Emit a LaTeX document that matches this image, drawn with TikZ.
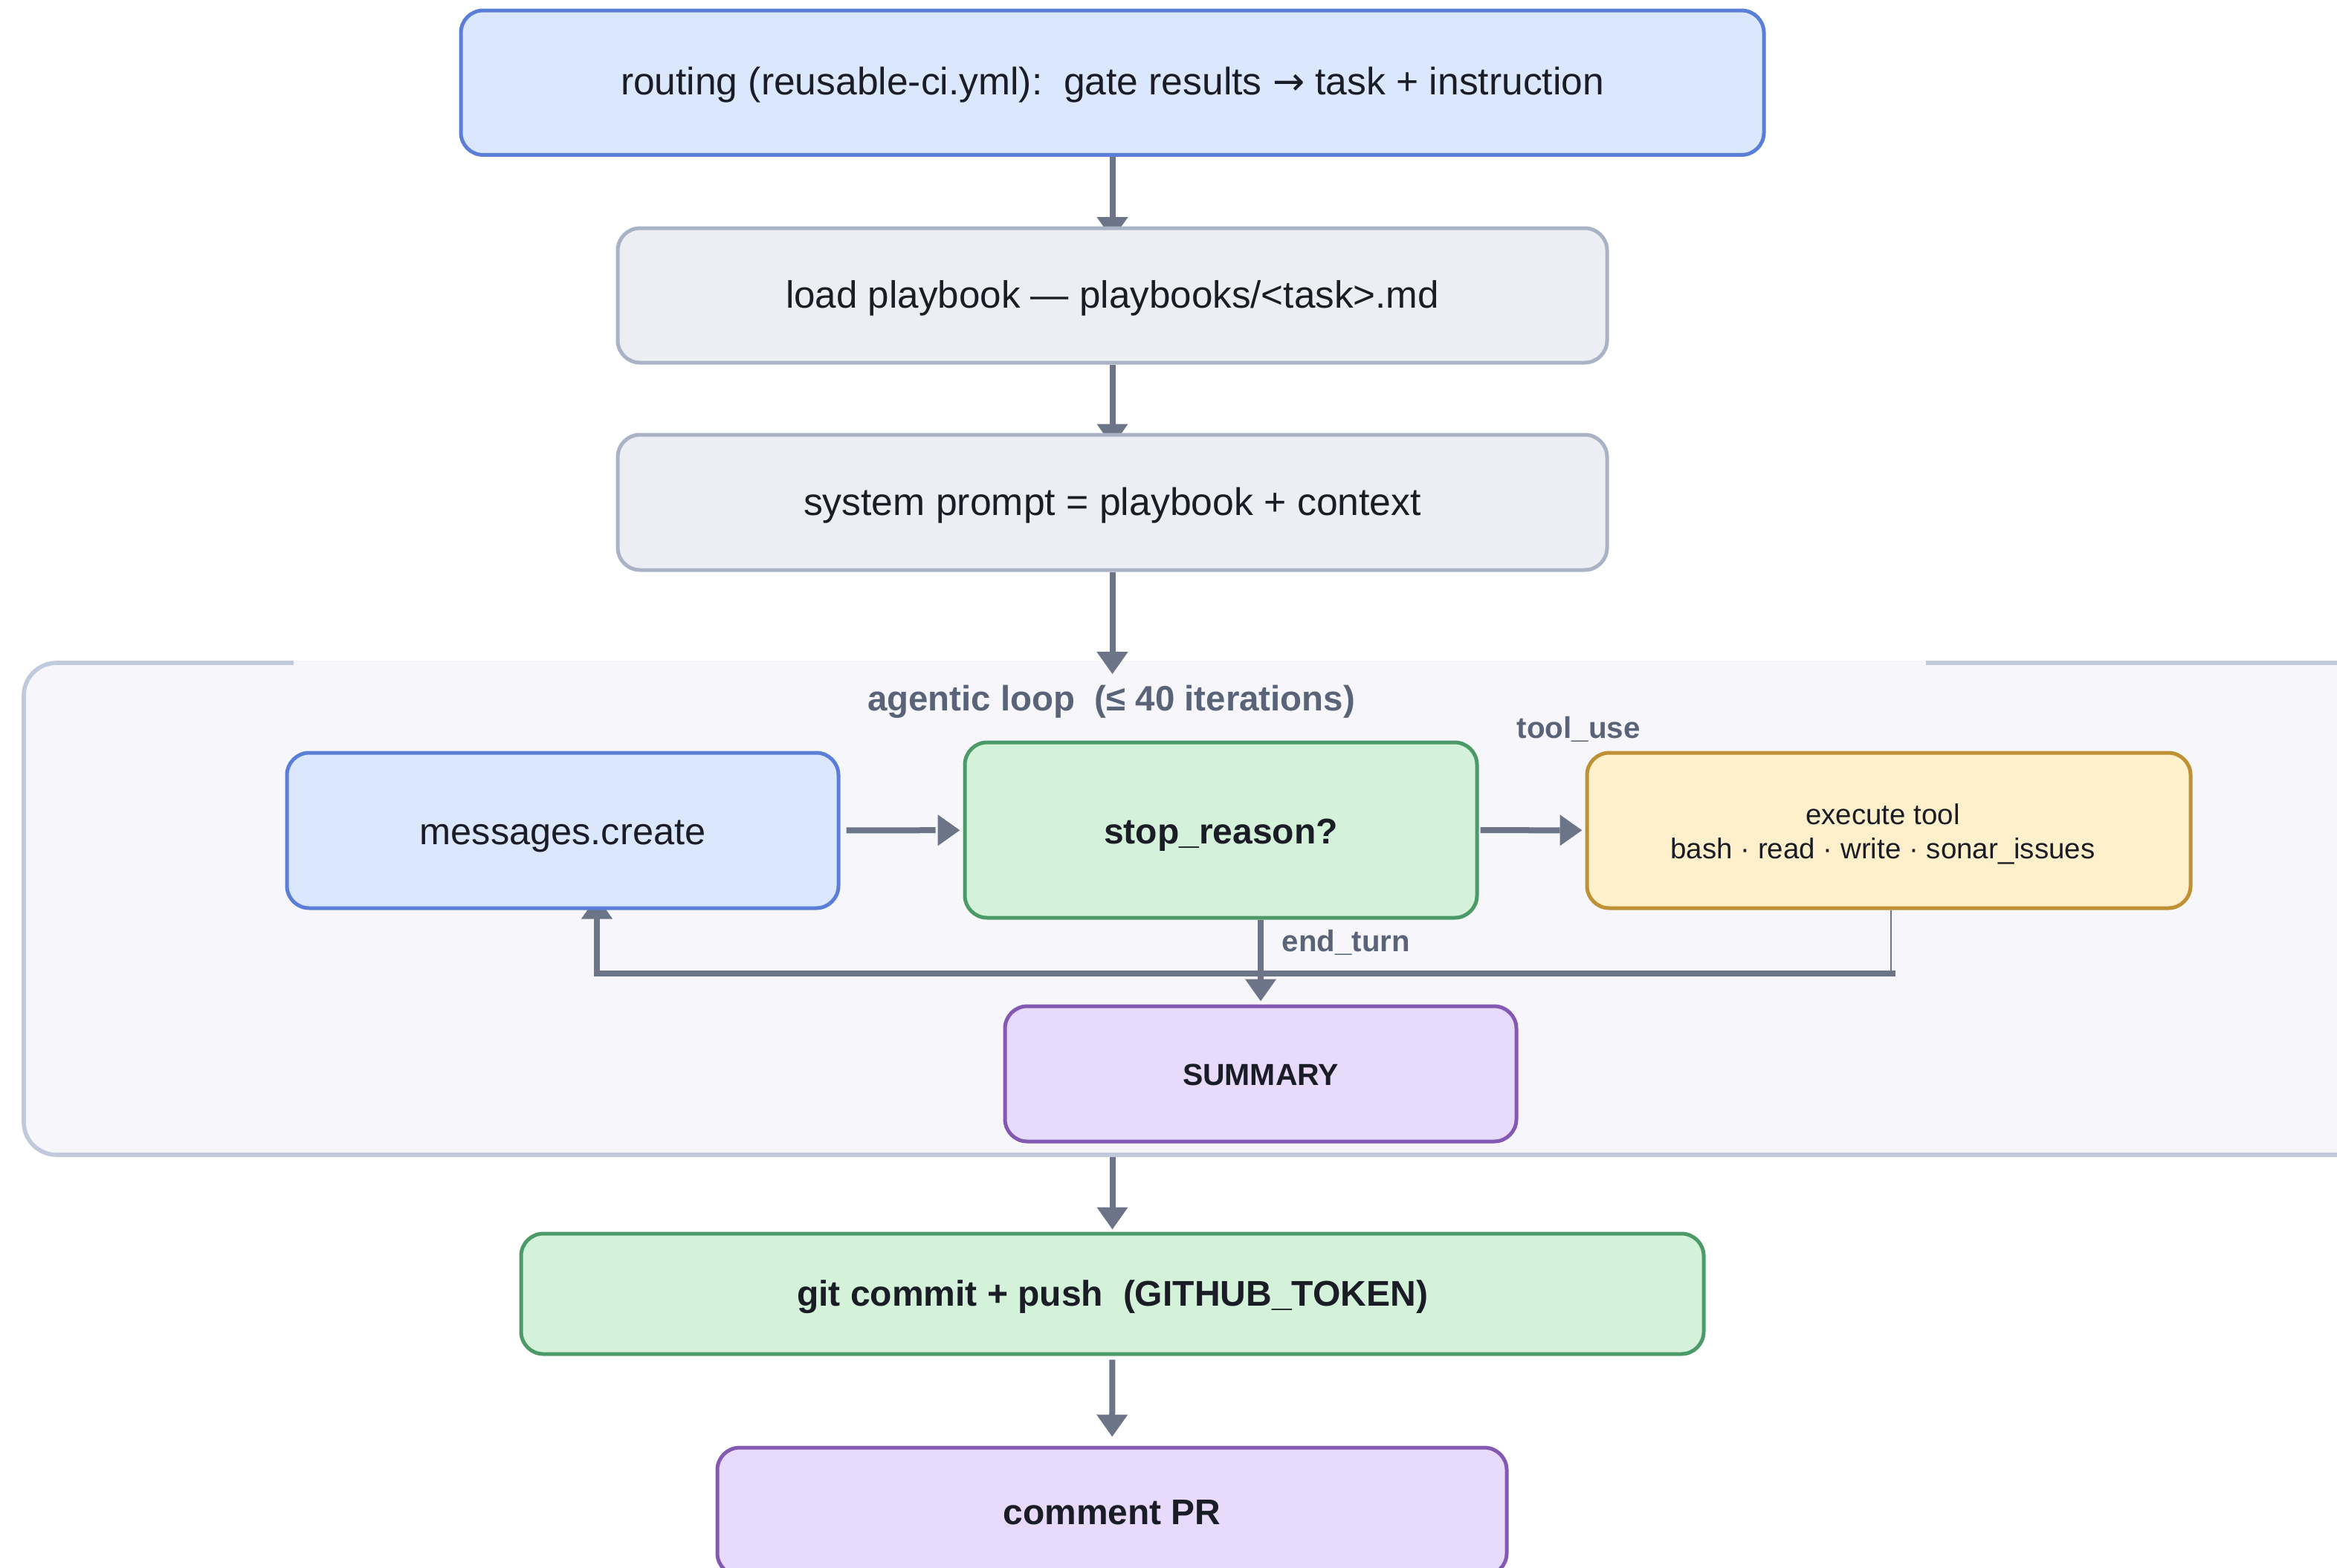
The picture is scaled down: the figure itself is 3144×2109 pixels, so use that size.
\documentclass[tikz,border=0pt]{standalone}
\usepackage{fontspec}
\setmainfont{Liberation Sans}
\newfontfamily\arrowfont{DejaVu Sans}
\usetikzlibrary{arrows.meta}

\definecolor{bluefill}{HTML}{DBE7FD}
\definecolor{blueline}{HTML}{5B7FD8}
\definecolor{grayfill}{HTML}{ECEEF4}
\definecolor{grayline}{HTML}{A9B3C5}
\definecolor{greenfill}{HTML}{D4F1D9}
\definecolor{greenline}{HTML}{4B9A67}
\definecolor{yellowfill}{HTML}{FFF0CC}
\definecolor{yellowline}{HTML}{BE9134}
\definecolor{purplefill}{HTML}{E8DAFB}
\definecolor{purpleline}{HTML}{8459B4}
\definecolor{loopfill}{HTML}{F6F6FB}
\definecolor{loopline}{HTML}{C1C9DD}
\definecolor{edgec}{HTML}{6B7587}
\definecolor{slate}{HTML}{5A6478}
\definecolor{ink}{HTML}{1B1D26}

% pick the font size at which #2 is exactly #1 wide
\newlength\fitlen
\newcommand\fitsize[2]{%
  \settowidth\fitlen{\fontsize{10pt}{12pt}\selectfont #2}%
  \pgfmathsetmacro\fitpt{10*(#1)/\fitlen}%
  \fontsize{\fitpt pt}{\fitpt pt}\selectfont}

\newcommand\routetext{routing (reusable-ci.yml):\ \ gate results {\arrowfont →} task + instruction}

\pgfdeclarelayer{back}
\pgfdeclarelayer{edges}
\pgfsetlayers{back,edges,main}

\begin{document}
\begin{tikzpicture}[x=0.25pt, y=-0.25pt,
  box/.style={rectangle, rounded corners=7.5pt, line width=1.25pt,
    inner sep=0pt, text depth=0pt, text=ink},
  bluebox/.style={box, fill=bluefill, draw=blueline},
  graybox/.style={box, fill=grayfill, draw=grayline},
  greenbox/.style={box, fill=greenfill, draw=greenline},
  yellowbox/.style={box, fill=yellowfill, draw=yellowline},
  purplebox/.style={box, fill=purplefill, draw=purpleline},
  loopbox/.style={rectangle, rounded corners=11pt, line width=1.4pt,
    fill=loopfill, draw=loopline, inner sep=0pt},
  lbl/.style={inner sep=0pt, text=slate},
  txt/.style={inner sep=0pt, text=ink},
  flow/.style={draw=edgec, line width=2pt,
    -{Triangle[length=7.5pt, width=10pt]}},
  thinflow/.style={draw=edgec, line width=0.7pt}
]
\useasboundingbox (0,0) rectangle (3144,2109);

% loop container
\begin{pgfonlayer}{back}
  \node[loopbox, minimum width=792pt, minimum height=165.5pt] (loop) at (1616,1223) {};
  \fill[loopfill] (395,889) rectangle (2591,897);
\end{pgfonlayer}

% pipeline steps
\node[bluebox, minimum width=438.25pt, minimum height=48.6pt, text height=8.25pt,
  font=\fitsize{330.75pt}{\routetext}]
  (route) at (1496.5,111.25) {\routetext};

\node[graybox, minimum width=332.75pt, minimum height=45.25pt, text height=8.25pt,
  font=\fitsize{219.75pt}{load playbook — playbooks/<task>.md}]
  (load) at (1496.5,397.5) {load playbook — playbooks/<task>.md};

\node[graybox, minimum width=332.75pt, minimum height=45.5pt, text height=8.5pt,
  font=\fitsize{207.75pt}{system prompt = playbook + context}]
  (sys) at (1496.5,676) {system prompt = playbook + context};

% inside the loop
\node[lbl, anchor=base, font=\bfseries\fitsize{164pt}{agentic loop\ \ (≤ 40 iterations)}]
  (looptitle) at (1495,956) {agentic loop\ \ (≤ 40 iterations)};

\node[bluebox, minimum width=185.5pt, minimum height=52.25pt, text height=9.25pt,
  font=\fitsize{96.25pt}{messages.create}]
  (msg) at (757,1117.5) {messages.create};

\node[greenbox, minimum width=172.25pt, minimum height=59pt, text height=9pt,
  font=\bfseries\fitsize{78.75pt}{stop\_reason?}]
  (stop) at (1642.5,1117) {stop\_reason?};

\node[yellowbox, minimum width=203pt, minimum height=52.25pt] (exec) at (2541,1117.5) {};
\node[txt, anchor=base, font=\fitsize{142.75pt}{bash · read · write · sonar\_issues}]
  (exec1) at (2533,1109) {execute tool};
\node[txt, anchor=base, font=\fitsize{142.75pt}{bash · read · write · sonar\_issues}]
  (exec2) at (2533,1155) {bash · read · write · sonar\_issues};

\node[purplebox, minimum width=172pt, minimum height=45.5pt, text height=7.5pt,
  font=\bfseries\fitsize{52.5pt}{SUMMARY}]
  (sum) at (1696,1445) {SUMMARY};

\node[lbl, anchor=base west, font=\bfseries\fitsize{41.5pt}{tool\_use}]
  (tooluse) at (2040,993) {tool\_use};
\node[lbl, anchor=base west, font=\bfseries\fitsize{43pt}{end\_turn}]
  (endturn) at (1724,1280) {end\_turn};

% after the loop
\node[greenbox, minimum width=397.75pt, minimum height=40.5pt, text height=8pt,
  font=\bfseries\fitsize{212.25pt}{git commit + push\ \ (GITHUB\_TOKEN)}]
  (git) at (1496.5,1741) {git commit + push\ \ (GITHUB\_TOKEN)};

\node[purplebox, minimum width=265.5pt, minimum height=43pt, text height=8.5pt,
  font=\bfseries\fitsize{73.25pt}{comment PR}]
  (com) at (1496,2034) {comment PR};

% connectors
\coordinate (fbT) at (2544,1310);
\coordinate (fbR) at (2550,1310);
\coordinate (fbL) at (803,1310);

\begin{pgfonlayer}{edges}
  \draw[flow, shorten >=-4.4pt] (route) -- (load);
  \draw[flow, shorten >=-4.5pt] (load) -- (sys);
  \draw[flow, shorten >=-4.5pt] (sys) -- (sys.south |- loop.north);
  \draw[flow, shorten <=2pt, shorten >=1pt, dash pattern=on 30pt off 20pt] (msg) -- (stop);
  \draw[flow, shorten <=0.5pt, shorten >=1pt, dash pattern=on 26.75pt off 20pt] (stop) -- (exec);
  \draw[flow, shorten >=1pt] (stop.south -| sum.north) -- (sum.north);
  \draw[thinflow] (exec.south -| fbT) -- (fbT);
  \draw[flow, shorten >=-4.5pt] (fbR) -- (fbL) -- (msg.south -| fbL);
  \draw[flow, shorten >=0.75pt] (loop.south -| git.north) -- (git.north);
  \draw[flow, shorten <=1.25pt, shorten >=3pt] (git) -- (com);
\end{pgfonlayer}
\end{tikzpicture}
\end{document}
